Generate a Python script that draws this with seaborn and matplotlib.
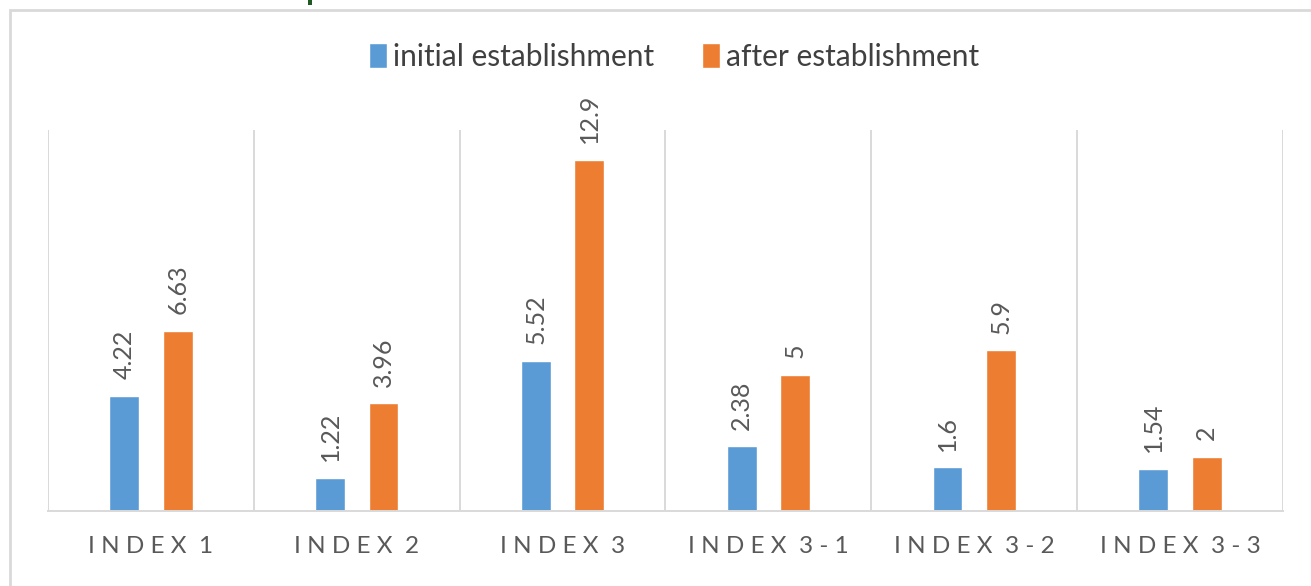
import numpy as np
import pandas as pd
import matplotlib
matplotlib.use('Agg')
import matplotlib.pyplot as plt
import seaborn as sns
from matplotlib.patches import Rectangle

categories = ['INDEX 1', 'INDEX 2', 'INDEX 3', 'INDEX 3-1', 'INDEX 3-2', 'INDEX 3-3']
initial = [4.22, 1.22, 5.52, 2.38, 1.6, 1.54]
after = [6.63, 3.96, 12.9, 5, 5.9, 2]
series_names = ['initial establishment', 'after establishment']
colors = ['#5B9BD5', '#ED7D31']

df = pd.DataFrame({
    'category': categories * 2,
    'value': initial + after,
    'series': [series_names[0]] * len(categories) + [series_names[1]] * len(categories),
})

sns.set_style('white')
plt.rcParams['font.family'] = ['Lato', 'DejaVu Sans']

fig = plt.figure(figsize=(13.11, 5.86), dpi=100)
ax = fig.add_axes([48 / 1311, 75 / 586, (1283 - 48) / 1311, (511 - 130) / 586])

sns.barplot(data=df, x='category', y='value', hue='series', order=categories,
            hue_order=series_names, palette=colors, width=0.52, gap=0.44,
            saturation=1, ax=ax)

for cont in ax.containers:
    ax.bar_label(cont, fmt='%g', rotation=90, padding=12, color='#595959', fontsize=18)

ax.set_xlim(-0.5, len(categories) - 0.5)
ax.set_ylim(0, 14)
ax.vlines(np.arange(-0.5, len(categories), 1), 0, 14, color='#D9D9D9', lw=1.4, zorder=0)

for s in ['top', 'left', 'right']:
    ax.spines[s].set_visible(False)
ax.spines['bottom'].set_color('#D9D9D9')
ax.spines['bottom'].set_linewidth(1.4)
ax.set_yticks([])
ax.set_xlabel('')
ax.set_ylabel('')
spaced = ['  '.join(' '.join(w) for w in c.split()) for c in categories]
ax.set_xticks(range(len(categories)))
ax.set_xticklabels(spaced, color='#595959', fontsize=17.5)
ax.tick_params(axis='x', length=0, pad=18)

handles, labels = ax.get_legend_handles_labels()
ax.legend(handles, labels, loc='center', bbox_to_anchor=(674 / 1311, 1 - 57 / 586),
          bbox_transform=fig.transFigure, ncol=2, frameon=False, fontsize=21.5,
          handlelength=0.6, handleheight=0.9, handletextpad=0.2, columnspacing=1.6,
          labelcolor='#404040')

# outer chart frame and the clipped mark above it
fig.patches.append(Rectangle((10 / 1311, -0.1), 1.2, 0.1 + 1 - 10 / 586,
                             transform=fig.transFigure, fill=False,
                             edgecolor='#D9D9D9', lw=2))
fig.patches.append(Rectangle((308 / 1311, 1 - 5 / 586), 4 / 1311, 5 / 586,
                             transform=fig.transFigure, color='#1E5B22', lw=0))

fig.savefig('out.png', dpi=100)
